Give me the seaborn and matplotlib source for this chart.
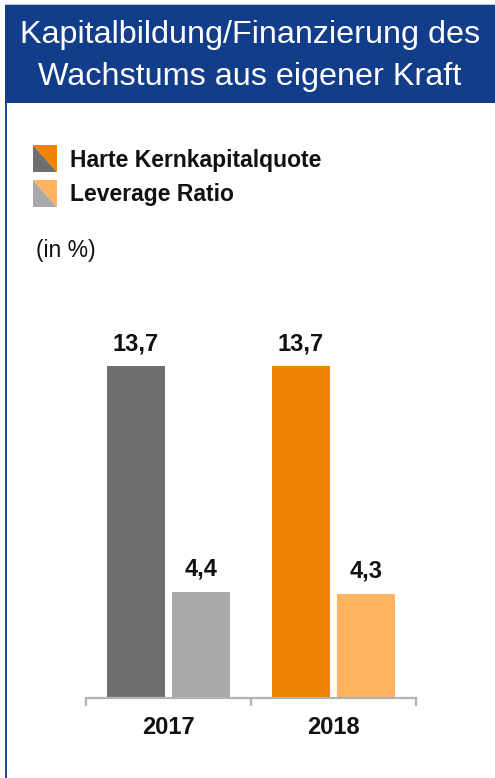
import pandas as pd
import seaborn as sns
import matplotlib.pyplot as plt
from matplotlib.patches import Rectangle, Polygon

years = ["2017", "2018"]
series = ["Harte Kernkapitalquote", "Leverage Ratio"]
harte = [13.7, 13.7]
leverage = [4.4, 4.3]

# colours per year: (harte, leverage)
bar_colors = {
    "Harte Kernkapitalquote": ["#6f6f6f", "#f08300"],
    "Leverage Ratio": ["#a9a9a9", "#ffb35f"],
}

df = pd.DataFrame({
    "Jahr": years * 2,
    "Serie": [series[0]] * 2 + [series[1]] * 2,
    "Wert": harte + leverage,
})

sns.set_style("white")
plt.rcParams['font.family'] = ['Liberation Sans', 'DejaVu Sans']

W, H = 495, 778
fig = plt.figure(figsize=(W / 100, H / 100), dpi=100)

def fx(px):
    return px / W

def fy(py):
    return 1 - py / H

# header box
fig.patches.append(Rectangle((fx(5), fy(103)), fx(490), 98 / H, transform=fig.transFigure,
                             facecolor="#123d8a", edgecolor="none", zorder=0))
fig.patches.append(Rectangle((fx(5), fy(5)), fx(490), 1.2 / H, transform=fig.transFigure,
                             facecolor="#b8c4d8", edgecolor="none", zorder=0))
fig.patches.append(Rectangle((fx(5), 0), fx(2.2), fy(103), transform=fig.transFigure,
                             facecolor="#1a4a9a", edgecolor="none", zorder=0))
fig.text(fx(250), fy(43), "Kapitalbildung/Finanzierung des", color="white",
         fontsize=23.3, ha="center", va="baseline")
fig.text(fx(250), fy(85), "Wachstums aus eigener Kraft", color="white",
         fontsize=23.3, ha="center", va="baseline")

# legend with split swatches
for i, s in enumerate(series):
    top = 145 + i * 35
    x0, x1, y0, y1 = fx(33), fx(57), fy(top + 27), fy(top)
    lo, hi = bar_colors[s]
    fig.patches.append(Polygon([(x0, y1), (x0, y0), (x1, y0)], closed=True,
                               transform=fig.transFigure, facecolor=lo, edgecolor="none"))
    fig.patches.append(Polygon([(x0, y1), (x1, y1), (x1, y0)], closed=True,
                               transform=fig.transFigure, facecolor=hi, edgecolor="none"))
    fig.text(fx(70), fy(top + 15), s, fontsize=16.5, fontweight="bold",
             ha="left", va="center", color="#111111")

fig.text(fx(36), fy(250), "(in %)", fontsize=16.5, ha="left", va="center", color="#111111")

# bar chart
ymax = 16
ax = fig.add_axes([fx(86), fy(698), fx(330), ymax * 24.2 / H])
sns.barplot(data=df, x="Jahr", y="Wert", hue="Serie", order=years, hue_order=series,
            width=0.79, gap=0.12, ax=ax, legend=False, saturation=1)

for s, cont in zip(series, ax.containers):
    for bar, c in zip(cont, bar_colors[s]):
        bar.set_facecolor(c)
        bar.set_edgecolor("none")
    ax.bar_label(cont, labels=[f"{v:.1f}".replace(".", ",") for v in cont.datavalues],
                 padding=8, fontsize=17, fontweight="bold", color="#111111")

ax.set_xlim(-0.5, 1.5)
ax.set_ylim(0, ymax)
ax.set_yticks([])
ax.set_xlabel("")
ax.set_ylabel("")
for side in ["top", "right", "left"]:
    ax.spines[side].set_visible(False)
ax.spines["bottom"].set_color("#b3b3b3")
ax.spines["bottom"].set_linewidth(1.6)
ax.set_xticks([0, 1])
ax.set_xticklabels(years, fontsize=17, fontweight="bold", color="#111111")
ax.tick_params(axis="x", which="major", length=0, pad=13)
ax.set_xticks([-0.5, 0.5, 1.5], minor=True)
ax.tick_params(axis="x", which="minor", bottom=True, length=5.5, width=1.6, color="#b3b3b3")
ax.patch.set_alpha(0)

fig.savefig("out.png", dpi=100)
